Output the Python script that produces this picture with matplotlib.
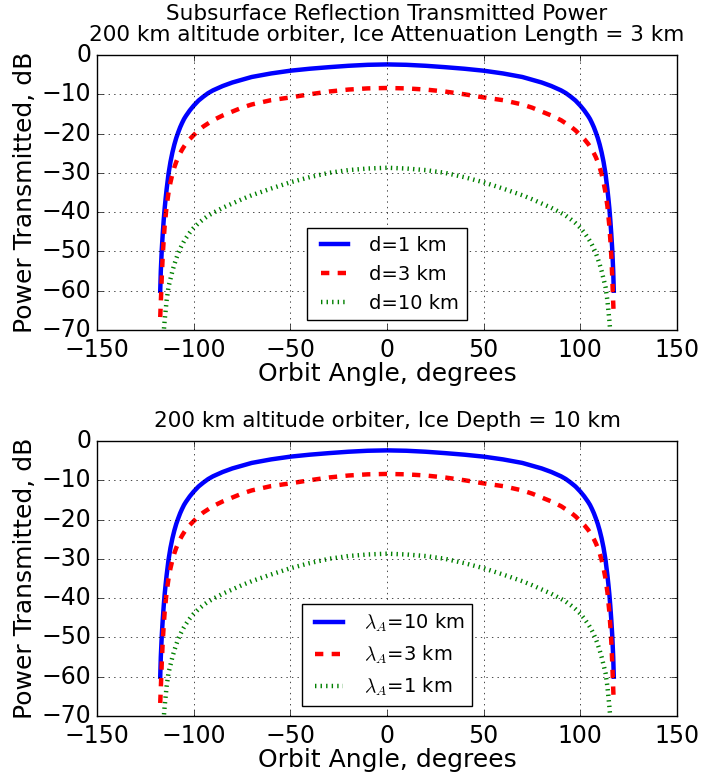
import matplotlib
matplotlib.use('Agg')
import matplotlib.pyplot as plt

plt.style.use('classic')

# orbit angle (degrees) and transmitted power (dB) for the three attenuation cases
angle = [-117.3, -117.0, -116.5, -116.0, -115.5, -115.0, -114.5, -114.0, -113.0,
         -112.0, -111.0, -110.0, -109.0, -108.0, -107.0, -106.0, -105.0, -104.0,
         -102.0, -100.0, -97.5, -95.0, -92.5, -90.0, -85.0, -80.0, -75.0, -70.0,
         -60.0, -50.0, -40.0, -30.0, -20.0, -10.0, 0.0,
         10.0, 20.0, 30.0, 40.0, 50.0, 60.0, 70.0, 75.0, 80.0, 85.0, 90.0, 92.5,
         95.0, 97.5, 100.0, 102.0, 104.0, 105.0, 106.0, 107.0, 108.0, 109.0, 110.0,
         111.0, 112.0, 113.0, 114.0, 114.5, 115.0, 115.5, 116.0, 116.5, 117.0, 117.3]

power_hi = [-60.0, -55.0, -49.5, -45.5, -42.0, -39.0, -36.5, -34.2, -30.2,
            -27.2, -24.8, -22.8, -21.1, -19.7, -18.4, -17.3, -16.3, -15.5,
            -14.1, -12.9, -11.6, -10.6, -9.7, -9.0, -7.9, -7.0, -6.3, -5.6,
            -4.7, -4.0, -3.5, -3.1, -2.75, -2.5, -2.4,
            -2.5, -2.75, -3.1, -3.5, -4.0, -4.7, -5.6, -6.3, -7.0, -7.9, -9.0, -9.7,
            -10.6, -11.6, -12.9, -14.1, -15.5, -16.3, -17.3, -18.4, -19.7, -21.1, -22.8,
            -24.8, -27.2, -30.2, -34.2, -36.5, -39.0, -42.0, -45.5, -49.5, -55.0, -60.0]

power_mid = [-66.7, -63.0, -56.5, -51.0, -47.0, -43.5, -41.0, -38.5, -35.0,
             -32.4, -30.3, -28.6, -27.2, -26.0, -25.0, -24.1, -23.3, -22.6,
             -21.4, -20.4, -19.2, -18.2, -17.4, -16.6, -15.4, -14.4, -13.4, -12.6,
             -11.5, -10.8, -10.0, -9.3, -8.8, -8.5, -8.4,
             -8.5, -8.8, -9.3, -10.0, -10.8, -11.5, -12.6, -13.4, -14.4, -15.4, -16.6, -17.4,
             -18.2, -19.2, -20.4, -21.4, -22.6, -23.3, -24.1, -25.0, -26.0, -27.2, -28.6,
             -30.3, -32.4, -35.0, -38.5, -41.0, -43.5, -47.0, -51.0, -56.5, -63.0, -66.7]

power_lo = [-88.0, -84.0, -79.0, -74.5, -70.5, -67.5, -65.0, -62.5, -59.0,
            -57.0, -55.0, -53.3, -51.8, -50.4, -49.3, -48.3, -47.4, -46.6,
            -45.2, -44.0, -42.8, -41.8, -40.9, -40.2, -38.9, -37.8, -36.7, -35.7,
            -34.0, -32.4, -31.1, -30.0, -29.3, -28.9, -28.7,
            -28.9, -29.3, -30.0, -31.1, -32.4, -34.0, -35.7, -36.7, -37.8, -38.9, -40.2, -40.9,
            -41.8, -42.8, -44.0, -45.2, -46.6, -47.4, -48.3, -49.3, -50.4, -51.8, -53.3,
            -55.0, -57.0, -59.0, -62.5, -65.0, -67.5, -70.5, -74.5, -79.0, -84.0, -88.0]

depth_labels = ['d=1 km', 'd=3 km', 'd=10 km']
atten_labels = [r'$\lambda_A$=10 km', r'$\lambda_A$=3 km', r'$\lambda_A$=1 km']

titles = ['Subsurface Reflection Transmitted Power\n'
          '200 km altitude orbiter, Ice Attenuation Length = 3 km',
          '200 km altitude orbiter, Ice Depth = 10 km']

fig = plt.figure(figsize=(7.05, 7.8), dpi=100, facecolor='white')
ax1 = fig.add_axes([0.1376, 0.5769, 0.8227, 0.3526])
ax2 = fig.add_axes([0.1376, 0.0821, 0.8227, 0.3526])

for ax, labels, title in [(ax1, depth_labels, titles[0]), (ax2, atten_labels, titles[1])]:
    ax.plot(angle, power_hi, 'b-', linewidth=3.2, label=labels[0])
    ax.plot(angle, power_mid, 'r--', linewidth=3.2, label=labels[1])
    ax.plot(angle, power_lo, 'g:', linewidth=3.2, label=labels[2])
    ax.set_xlim(-150, 150)
    ax.set_ylim(-70, 0)
    ax.set_xticks([-150, -100, -50, 0, 50, 100, 150])
    ax.set_yticks([0, -10, -20, -30, -40, -50, -60, -70])
    ax.grid(True)
    ax.tick_params(axis='x', labelsize=17, pad=6)
    ax.tick_params(axis='y', labelsize=17, pad=4)
    ax.set_xlabel('Orbit Angle, degrees', fontsize=18, labelpad=0)
    ax.set_ylabel('Power Transmitted, dB', fontsize=18, labelpad=3)
    ax.set_title(title, fontsize=15.5, pad=10, linespacing=1.05)
    ax.legend(loc='lower center', fontsize=14)

fig.savefig('out.png', dpi=100, facecolor='white')
